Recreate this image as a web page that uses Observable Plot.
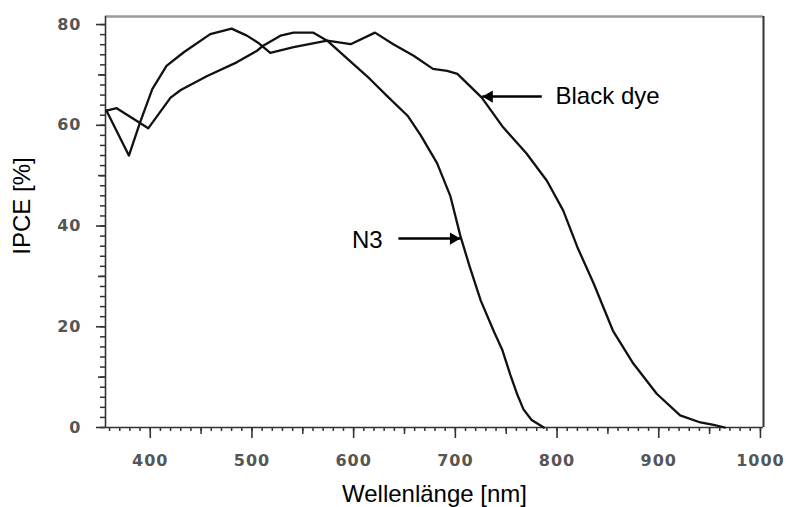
<!DOCTYPE html>
<html>
<head>
<meta charset="utf-8">
<script src="https://cdn.jsdelivr.net/npm/d3@7"></script>
<script src="https://cdn.jsdelivr.net/npm/@observablehq/plot@0.6"></script>
<style>
  body { margin: 0; background: #fff; }
  [aria-label$="tick label"] text, [aria-label$="tick label"] { letter-spacing: 1px; }
</style>
</head>
<body>
<div id="chart"></div>
<script>
// N3 dye IPCE curve
const n3Wavelength = [357, 367, 388, 398, 420, 430, 456, 485, 505, 511, 528, 541, 560, 574, 594, 616, 633, 653, 666, 682, 695, 705, 714, 725, 738, 746, 754, 761, 767, 775, 787];
const n3Ipce       = [62.9, 63.4, 60.7, 59.4, 65.5, 67.0, 69.8, 72.5, 74.8, 75.8, 77.8, 78.4, 78.4, 76.8, 73.2, 69.2, 65.8, 61.9, 58.0, 52.5, 46.0, 38.0, 32.0, 25.2, 19.0, 15.5, 10.5, 6.5, 3.6, 1.5, 0];

// Black dye IPCE curve
const blackWavelength = [357, 379, 390, 402, 416, 433, 459, 480, 495, 506, 518, 541, 574, 597, 621, 639, 659, 678, 692, 702, 726, 747, 770, 790, 806, 820, 836, 855, 875, 898, 921, 941, 954, 965];
const blackIpce       = [62.9, 54.0, 60.6, 67.2, 71.8, 74.5, 78.1, 79.2, 77.8, 76.4, 74.4, 75.5, 76.8, 76.1, 78.4, 76.1, 73.8, 71.2, 70.8, 70.2, 65.5, 59.6, 54.4, 49.0, 43.1, 35.8, 28.6, 19.2, 12.7, 6.7, 2.4, 1.0, 0.5, 0];

// Axis ticks
const xMajorTicks = [400, 500, 600, 700, 800, 900, 1000];
const xMidTicks = [450, 550, 650, 750, 850, 950];
const xMinorTicks = d3.range(360, 1001, 10);
const yMajorTicks = [0, 20, 40, 60, 80];
const yMidTicks = [10, 30, 50, 70];
const yMinorTicks = d3.range(0, 81, 2);
const xDomain = [356, 1003];
const yDomain = [0, 81.6];

// Axis titles
const xTitle = "Wellenlänge [nm]";
const yTitle = "IPCE [%]";

// Annotations (data units)
const labelNames = ["Black dye", "N3"];
const labelX = [798.5, 628.5];
const labelY = [65.7, 37.1];
const arrowFromX = [785, 644];
const arrowToX = [726.5, 705];
const arrowY = [65.7, 37.5];

const n3 = n3Wavelength.map((w, i) => ({wavelength: w, ipce: n3Ipce[i]}));
const black = blackWavelength.map((w, i) => ({wavelength: w, ipce: blackIpce[i]}));
const labels = labelNames.map((t, i) => ({text: t, x: labelX[i], y: labelY[i]}));
const arrows = labelNames.map((t, i) => ({name: t, x1: arrowFromX[i], x2: arrowToX[i], y: arrowY[i]}));

const tickFont = {fontFamily: "DejaVu Sans", fontWeight: "bold", fontSize: 16, fill: "#555"};
const titleFont = {fontFamily: "Liberation Sans, Arial, sans-serif", fontSize: 24, fill: "#000"};

const chart = Plot.plot({
  width: 789,
  height: 507,
  marginLeft: 105,
  marginRight: 26,
  marginTop: 16,
  marginBottom: 80,
  style: {background: "#fff", fontFamily: "Liberation Sans, Arial, sans-serif"},
  x: {domain: xDomain, label: null},
  y: {domain: yDomain, label: null},
  marks: [
    // frame
    Plot.ruleY([yDomain[1]], {stroke: "#9a9a9a", strokeWidth: 2.5}),
    Plot.ruleX([xDomain[1]], {stroke: "#333", strokeWidth: 2}),
    Plot.ruleY([yDomain[0]], {stroke: "#333", strokeWidth: 1.6}),
    Plot.ruleX([xDomain[0]], {stroke: "#333", strokeWidth: 1.6}),
    // x ticks
    Plot.axisX(xMinorTicks, {tickSize: 4, fill: "none", stroke: "#333", strokeWidth: 1.5}),
    Plot.axisX(xMidTicks, {tickSize: 7, fill: "none", stroke: "#333", strokeWidth: 1.5}),
    Plot.axisX(xMajorTicks, {tickSize: 11, tickPadding: 16, tickFormat: "d", stroke: "#333", strokeWidth: 1.6, ...tickFont}),
    // y ticks
    Plot.axisY(yMinorTicks, {tickSize: 5, fill: "none", stroke: "#333", strokeWidth: 1.5}),
    Plot.axisY(yMidTicks, {tickSize: 7, fill: "none", stroke: "#333", strokeWidth: 1.6}),
    Plot.axisY(yMajorTicks, {tickSize: 9, tickPadding: 15, tickFormat: "d", stroke: "#333", strokeWidth: 1.6, ...tickFont}),
    // curves
    Plot.line(black, {x: "wavelength", y: "ipce", stroke: "#111", strokeWidth: 2.3}),
    Plot.line(n3, {x: "wavelength", y: "ipce", stroke: "#111", strokeWidth: 2.3}),
    // arrows
    Plot.link(arrows, {x1: "x1", y1: "y", x2: "x2", y2: "y", stroke: "#000", strokeWidth: 2.5}),
    Plot.dot(arrows.filter(d => d.name === "Black dye"), {x: "x2", y: "y", symbol: "triangle", r: 4.5, fill: "#000", stroke: null, rotate: -90, dx: 7}),
    Plot.dot(arrows.filter(d => d.name === "N3"), {x: "x2", y: "y", symbol: "triangle", r: 4.5, fill: "#000", stroke: null, rotate: 90, dx: -7}),
    // labels
    Plot.text(labels.filter(d => d.text === "Black dye"), {x: "x", y: "y", text: "text", textAnchor: "start", ...titleFont}),
    Plot.text(labels.filter(d => d.text === "N3"), {x: "x", y: "y", text: "text", textAnchor: "end", ...titleFont}),
    // axis titles
    Plot.text([yTitle], {frameAnchor: "left", textAnchor: "middle", lineAnchor: "middle", dx: -83, dy: -16, rotate: -90, ...titleFont}),
    Plot.text([xTitle], {frameAnchor: "bottom", textAnchor: "middle", lineAnchor: "middle", dy: 67, ...titleFont})
  ]
});
document.getElementById("chart").appendChild(chart);
</script>
</body>
</html>
